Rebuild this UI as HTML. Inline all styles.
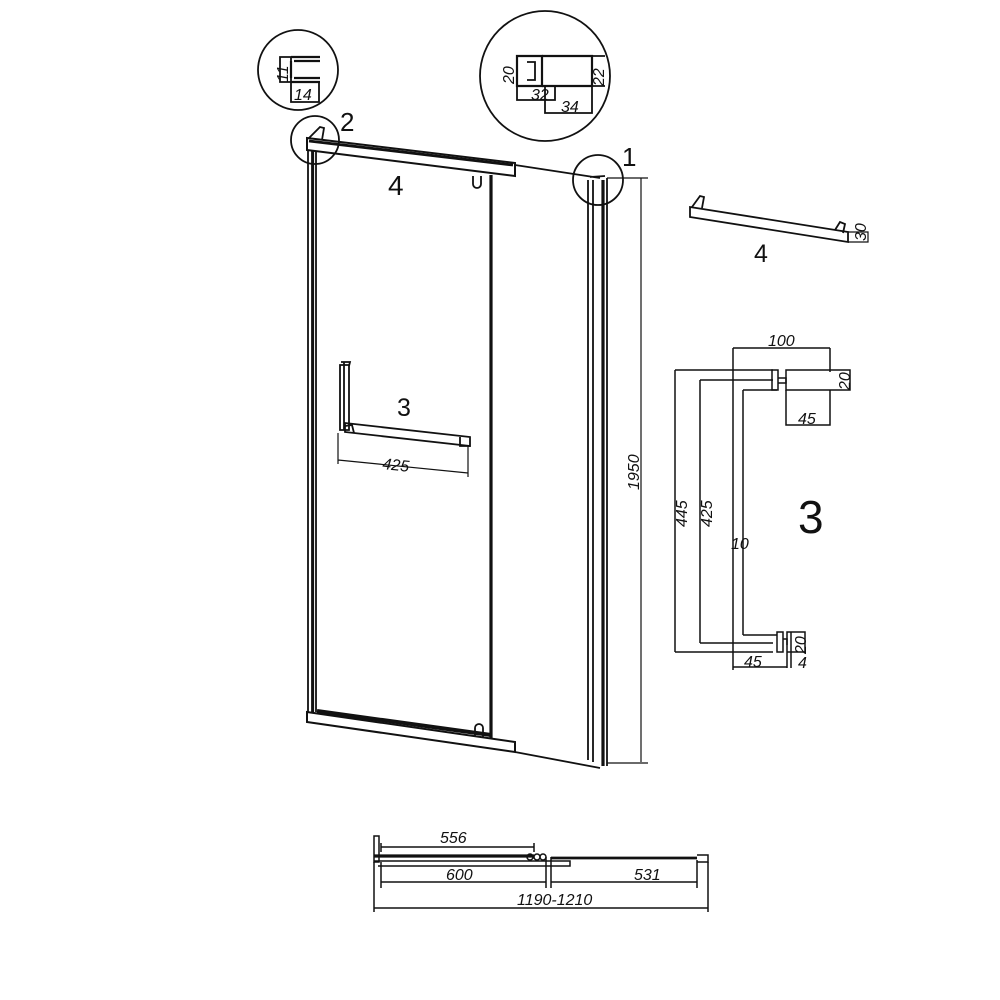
<!DOCTYPE html>
<html><head><meta charset="utf-8"><style>
html,body{margin:0;padding:0;background:#fff;}
svg{display:block;}
text{font-family:"Liberation Sans",sans-serif;fill:#111;}
.d{font-style:italic;font-size:16px;}
</style></head><body>
<svg width="1000" height="1000" viewBox="0 0 1000 1000" xmlns="http://www.w3.org/2000/svg">
<g fill="none" stroke="#111" stroke-width="1.8">
<circle cx="298" cy="70" r="40"/>
<circle cx="545" cy="76" r="65"/>
<circle cx="315" cy="140" r="24"/>
<circle cx="598" cy="180" r="25"/>
<path d="M280 57 H291 V82 H280 Z"/>
<path d="M291 57 H320 M291 61 V78 M291 82 H320 M294 61 H320 M294 78 H320" stroke-width="2.2"/>
<path d="M291 82 V102 H319 V82"/>
<path d="M517 56 H542 V86 H517 Z" stroke-width="2.2"/>
<path d="M527 62 H535 V80 H527" />
<path d="M542 56 H592 V86 H542" stroke-width="2.2"/>
<path d="M517 86 V100 H555 V86 M545 86 V113 H592 V86 M592 56 H605 M592 86 H605"/>
<path d="M307 138 L515 163 L515 176 L307 150 Z" stroke-width="2"/>
<path d="M309 141 L513 165" stroke-width="2.8"/>
<path d="M309 138 L320 127 L324 128 L322 140"/>
<path d="M515 165 L600 178 M590 177 L605 176"/>
<path d="M473 176 V184 A4 4 0 0 0 481 184 V176"/>
<path d="M308 150 V712 M312 150 V712 M316 152 V712"/>
<path d="M313 150 V712" stroke-width="2.2"/>
<path d="M491 175 V738" stroke-width="3.2"/>
<path d="M588 180 V760 M593 180 V762 M607 178 V766"/>
<path d="M603 180 V766" stroke-width="3.2"/>
<path d="M307 712 L515 742 L515 752 L307 722 Z" stroke-width="2"/>
<path d="M317 711 L491 735" stroke-width="4"/>
<path d="M475 736 V728 A4 4 0 0 1 483 728 V738"/>
<path d="M515 752 L600 768"/>
<path d="M607 178 H648 M641 178 V762 M607 763 H648" stroke-width="1.2"/>
<path d="M340 365 H349 V430 H340 Z"/>
<path d="M341 362 H350 L349 366 M344 362 V430"/>
<path d="M345 423 L470 437 L470 446 L345 432 Z"/>
<path d="M345 426 L352 425 L354 433 M460 437 L460 446 L470 446"/>
<path d="M338 433 L338 464 M468 446 L468 477 M338 460 L468 473" stroke-width="1.2"/>
<path d="M690 207 L848 232 L848 242 L690 217 Z"/>
<path d="M692 207 L700 196 L704 197 L702 208 M835 230 L840 222 L845 224 L843 233"/>
<path d="M848 232 H868 V242 H848" stroke-width="1.2"/>
<g stroke-width="1.5">
<path d="M733 348 H830 M733 348 V670 M830 348 V372"/>
<path d="M675 370 H773 M675 370 V652 M675 652 H773"/>
<path d="M700 380 H773 M700 380 V643 M700 643 H773"/>
<path d="M743 390 H777 M743 390 V635 M743 635 H777"/>
<path d="M772 370 H778 V390 H772 Z M778 378 H786 V383 H778"/>
<path d="M786 370 H850 V390 H786 Z"/>
<path d="M786 390 V425 H830 V390"/>
<path d="M777 632 H783 V652 H777 Z M783 639 H787 V645"/>
<path d="M787 632 H805 V652 H787 Z M791 632 V668 M787 652 V668"/>
<path d="M733 667 H787"/>
</g>
<g stroke-width="1.5">
<path d="M374 836 H379 V862 H374 Z"/>
<path d="M381 843 V852 M534 843 V852 M381 847 H534"/>
<path d="M374 856 H534" stroke-width="3.2"/>
<path d="M374 861 H570 V866 H378"/>
<circle cx="530" cy="857" r="3"/><circle cx="537" cy="857" r="3"/><circle cx="543" cy="857" r="3"/>
<path d="M546 857 V888 M551 857 V888 M381 862 V888 M381 882 H546 M551 882 H697 M697 860 V888"/>
<path d="M551 858 H697" stroke-width="2.8"/>
<path d="M697 855 H708 V862 H697"/>
<path d="M374 862 V912 M708 862 V912 M374 908 H708"/>
</g>
</g>
<text x="340" y="131" font-size="26">2</text>
<text x="622" y="166" font-size="26">1</text>
<text x="388" y="195" font-size="28">4</text>
<text x="397" y="416" font-size="25">3</text>
<text x="754" y="262" font-size="25">4</text>
<text x="798" y="533" font-size="46">3</text>
<text class="d" x="382" y="469" transform="rotate(6 382 469)">425</text>
<text class="d" x="639" y="490" transform="rotate(-90 639 490)">1950</text>
<text class="d" x="768" y="346" font-size="13">100</text>
<text class="d" x="798" y="424" font-size="14">45</text>
<text class="d" x="850" y="390" font-size="14" transform="rotate(-90 850 390)">20</text>
<text class="d" x="806" y="654" font-size="14" transform="rotate(-90 806 654)">20</text>
<text class="d" x="798" y="668" font-size="14">4</text>
<text class="d" x="744" y="667" font-size="14">45</text>
<text class="d" x="687" y="527" font-size="15" transform="rotate(-90 687 527)">445</text>
<text class="d" x="712" y="527" font-size="15" transform="rotate(-90 712 527)">425</text>
<text class="d" x="731" y="549" font-size="12">10</text>
<text class="d" x="288" y="82" font-size="15" transform="rotate(-90 288 82)">11</text>
<text class="d" x="294" y="100" font-size="15">14</text>
<text class="d" x="514" y="84" font-size="12" transform="rotate(-90 514 84)">20</text>
<text class="d" x="604" y="86" font-size="12" transform="rotate(-90 604 86)">22</text>
<text class="d" x="531" y="100" font-size="12">32</text>
<text class="d" x="561" y="112" font-size="12">34</text>
<text class="d" x="866" y="241" font-size="7" transform="rotate(-90 866 241)">30</text>
<text class="d" x="440" y="843">556</text>
<text class="d" x="446" y="880">600</text>
<text class="d" x="634" y="880">531</text>
<text class="d" x="517" y="905" font-size="15">1190-1210</text>
</svg>
</body></html>
